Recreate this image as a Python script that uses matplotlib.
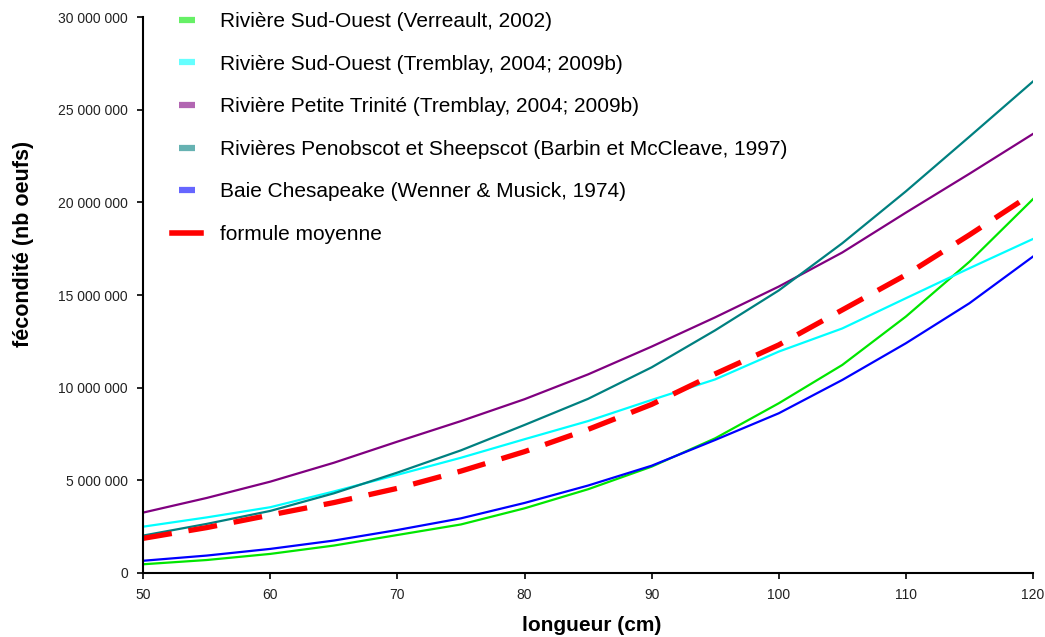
import matplotlib
matplotlib.use("Agg")
import matplotlib.pyplot as plt
from matplotlib.lines import Line2D
from matplotlib.ticker import FuncFormatter

plt.rcParams['font.family'] = ['Liberation Sans', 'DejaVu Sans']

# longueur (cm)
longueur = [50, 55, 60, 65, 70, 75, 80, 85, 90, 95, 100, 105, 110, 115, 120]

# fécondité (millions d'oeufs)
verreault = [0.47, 0.70, 1.03, 1.48, 2.05, 2.62, 3.49, 4.52, 5.74, 7.27, 9.16, 11.23, 13.84, 16.8, 20.18]
tremblay_so = [2.50, 3.00, 3.55, 4.40, 5.30, 6.22, 7.22, 8.20, 9.34, 10.45, 11.95, 13.2, 14.83, 16.45, 18.03]
tremblay_pt = [3.26, 4.05, 4.93, 5.95, 7.09, 8.20, 9.38, 10.72, 12.22, 13.8, 15.46, 17.3, 19.45, 21.55, 23.70]
barbin = [2.02, 2.65, 3.35, 4.30, 5.42, 6.62, 7.99, 9.40, 11.10, 13.1, 15.25, 17.8, 20.6, 23.55, 26.53]
wenner = [0.66, 0.94, 1.30, 1.75, 2.32, 2.95, 3.78, 4.72, 5.79, 7.18, 8.62, 10.42, 12.40, 14.56, 17.08]
moyenne = [1.87, 2.45, 3.13, 3.80, 4.57, 5.50, 6.55, 7.75, 9.10, 10.75, 12.31, 14.2, 16.09, 18.25, 20.50]

labels = [
    "Rivière Sud-Ouest (Verreault, 2002)",
    "Rivière Sud-Ouest (Tremblay, 2004; 2009b)",
    "Rivière Petite Trinité (Tremblay, 2004; 2009b)",
    "Rivières Penobscot et Sheepscot (Barbin et McCleave, 1997)",
    "Baie Chesapeake (Wenner & Musick, 1974)",
    "formule moyenne",
]
colors = ["#00e600", "#00ffff", "#800080", "#008080", "#0000ff", "#ff0000"]
series = [verreault, tremblay_so, tremblay_pt, barbin, wenner, moyenne]

fig = plt.figure(figsize=(10.45, 6.37), dpi=100)
ax = fig.add_axes([0.137, 0.1005, 0.8515, 0.8725])

for vals, col in zip(series[:-1], colors[:-1]):
    ax.plot(longueur, [v * 1e6 for v in vals], color=col, lw=1.6)
ax.plot(longueur, [v * 1e6 for v in moyenne], color=colors[-1], lw=3.8,
        dashes=(5.5, 3.2))

ax.set_xlim(50, 120)
ax.set_ylim(0, 30e6)
ax.set_xticks(range(50, 121, 10))
ax.set_yticks([i * 5e6 for i in range(7)])
ax.yaxis.set_major_formatter(FuncFormatter(lambda v, p: f"{int(v):,}".replace(",", " ")))
ax.spines['top'].set_visible(False)
ax.spines['right'].set_visible(False)
ax.spines['left'].set_linewidth(1.5)
ax.spines['bottom'].set_linewidth(1.5)
ax.tick_params(axis='both', direction='out', length=4, width=1.2,
               labelsize=10, labelcolor='#222222')
ax.tick_params(axis='y', pad=7)
ax.tick_params(axis='x', pad=6.5)

ax.set_xlabel("longueur (cm)", fontsize=15, fontweight='bold')
ax.set_ylabel("fécondité (nb oeufs)", fontsize=15.5, fontweight='bold')
ax.xaxis.set_label_coords(0.504, -0.077)
ax.yaxis.set_label_coords(-0.134, 0.592)
ax.yaxis.label.set_verticalalignment('center')

handles = []
for col in colors[:-1]:
    handles.append(Line2D([], [], color=col, alpha=0.6, marker='_', markersize=12,
                          markeredgewidth=4.5, linestyle='none'))
handles.append(Line2D([], [], color=colors[-1], lw=4))
leg = ax.legend(handles, labels, loc='upper left', bbox_to_anchor=(0.0326, 1.009),
                frameon=False, fontsize=15, labelspacing=1.13, handlelength=1.4,
                handletextpad=0.9, borderpad=0, borderaxespad=0)

fig.savefig("out.png", dpi=100)
